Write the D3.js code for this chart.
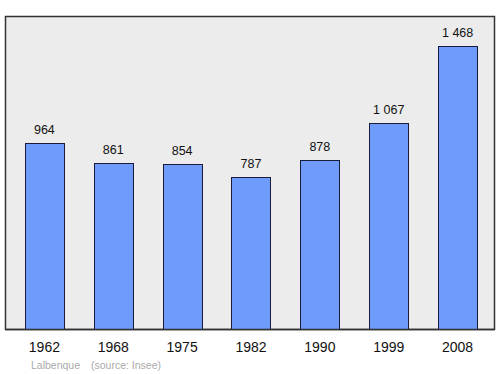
<!DOCTYPE html>
<html>
<head>
<meta charset="utf-8">
<script src="https://cdn.jsdelivr.net/npm/d3@7"></script>
<style>
body { margin: 0; background: #fff; }
text { font-family: "Liberation Sans", Arial, sans-serif; }
</style>
</head>
<body>
<svg width="500" height="374"></svg>
<script>
var years = ["1962", "1968", "1975", "1982", "1990", "1999", "2008"];
var population = [964, 861, 854, 787, 878, 1067, 1468];
var labels = ["964", "861", "854", "787", "878", "1 067", "1 468"];

var svg = d3.select("svg");

var plot = {left: 5.5, top: 16.5, right: 494.5, bottom: 329.5};

svg.append("rect")
    .attr("x", plot.left).attr("y", plot.top)
    .attr("width", plot.right - plot.left)
    .attr("height", plot.bottom - plot.top)
    .attr("fill", "#ececec")
    .attr("stroke", "#333")
    .attr("stroke-width", 1.5);

var x = d3.scaleBand()
    .domain(years)
    .range([11, 491])
    .paddingInner(0.43)
    .paddingOuter(0.2);

var y = d3.scaleLinear()
    .domain([0, 1468])
    .range([329.5, 45.5]);

var g = svg.append("g");

g.selectAll(".bar")
    .data(population)
    .enter().append("rect")
    .attr("class", "bar")
    .attr("x", function(d, i) { return Math.round(x(years[i])) + 0.5; })
    .attr("y", function(d) { return Math.round(y(d)) + 0.5; })
    .attr("width", Math.round(x.bandwidth()))
    .attr("height", function(d) { return y(0) - Math.round(y(d)) - 0.5; })
    .attr("fill", "#6f9bfd")
    .attr("stroke", "#1a1a3a")
    .attr("stroke-width", 1);

g.selectAll(".val")
    .data(population)
    .enter().append("text")
    .attr("class", "val")
    .attr("x", function(d, i) { return x(years[i]) + x.bandwidth() / 2; })
    .attr("y", function(d) { return y(d) - 9; })
    .attr("text-anchor", "middle")
    .attr("font-size", 12.5)
    .attr("fill", "#111")
    .text(function(d, i) { return labels[i]; });

// redraw frame bottom over bars
svg.append("line")
    .attr("x1", plot.left).attr("x2", plot.right)
    .attr("y1", plot.bottom).attr("y2", plot.bottom)
    .attr("stroke", "#333").attr("stroke-width", 1.5);

svg.append("g").selectAll("text")
    .data(years)
    .enter().append("text")
    .attr("x", function(d) { return x(d) + x.bandwidth() / 2; })
    .attr("y", 352)
    .attr("text-anchor", "middle")
    .attr("font-size", 14)
    .attr("fill", "#111")
    .text(function(d) { return d; });

svg.append("text")
    .attr("x", 31).attr("y", 369)
    .attr("font-size", 10.5)
    .attr("fill", "#aaa")
    .text("Lalbenque");

svg.append("text")
    .attr("x", 91).attr("y", 369)
    .attr("font-size", 10.5)
    .attr("fill", "#aaa")
    .text("(source: Insee)");
</script>
</body>
</html>
